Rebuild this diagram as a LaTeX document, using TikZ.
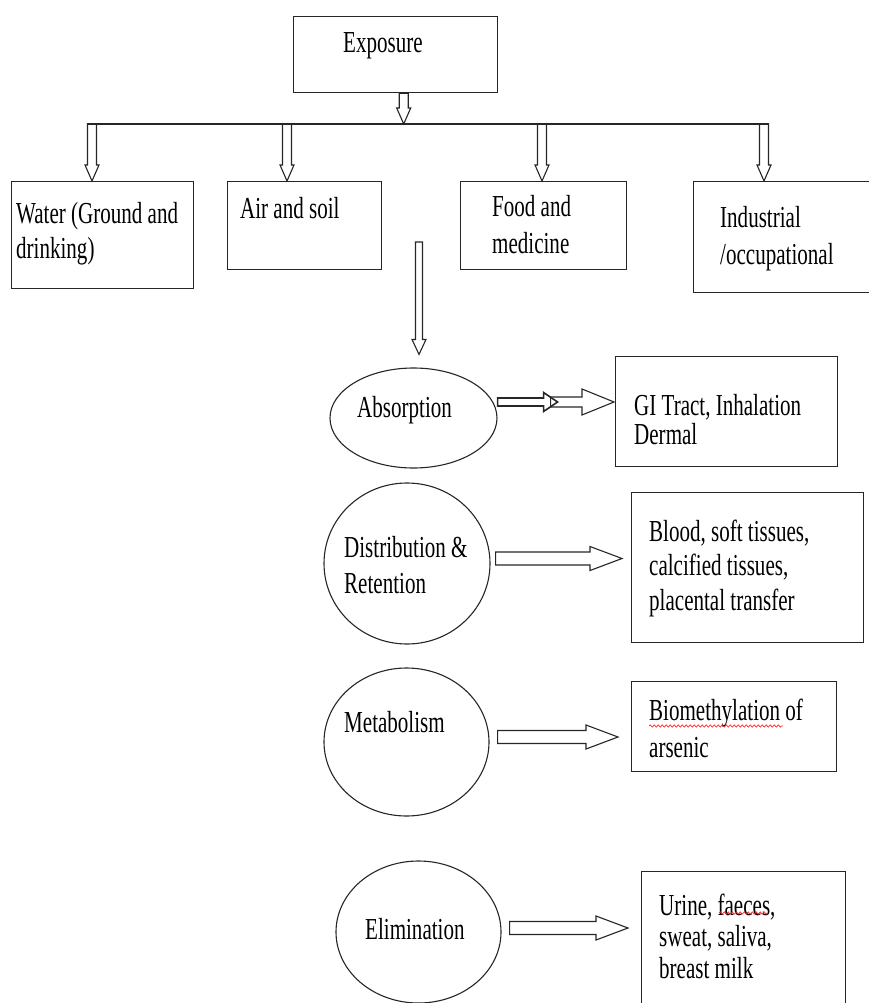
\documentclass[tikz,border=0pt]{standalone}
\usepackage{fontspec}
\setmainfont{Liberation Serif}[FakeStretch=0.69]
\usetikzlibrary{calc,shapes.geometric,decorations.pathmorphing}

% hollow block arrow: #1 half shaft, #2 half head, #3 head length, #4 from, #5 to
\newcommand{\flecha}[5]{%
  \coordinate (fa) at (#4);
  \coordinate (fb) at (#5);
  \coordinate (fh) at ($(fb)!#3pt!(fa)$);
  \draw[linea] ($(fa)!#1pt!90:(fb)$) -- ($(fh)!#1pt!-90:(fa)$) -- ($(fh)!#2pt!-90:(fa)$) -- (fb)
     -- ($(fh)!#2pt!90:(fa)$) -- ($(fh)!#1pt!90:(fa)$) -- ($(fa)!#1pt!-90:(fb)$) -- cycle;
}

\begin{document}
\begin{tikzpicture}[x=1pt,y=-1pt]
\tikzset{caja/.style={rectangle,draw,line width=1.4pt,black!85,anchor=north west,inner sep=0pt},
         ovalo/.style={ellipse,draw,line width=1.1pt,black!85,inner sep=0pt},
         texto/.style={inner sep=0pt,anchor=base west,text=black,font=\fontsize{30.5}{35}\selectfont},
         linea/.style={line width=1.1pt,black!85},
         subrayado/.style={red!85,line width=0.7pt,decorate,decoration={snake,amplitude=1.1pt,segment length=4pt}}}

\useasboundingbox (0,0) rectangle (869,1003);

  \draw (293,16) node[caja,minimum width=204pt,minimum height=76pt](expo) {};
  \draw (11,181) node[caja,minimum width=182pt,minimum height=107pt](water) {};
  \draw (227,181) node[caja,minimum width=154pt,minimum height=88pt](air) {};
  \draw (460,181) node[caja,minimum width=166pt,minimum height=88pt](food) {};
  \draw (693,181) node[caja,minimum width=190pt,minimum height=111pt](indus) {};

  \draw (413.5,418) node[ovalo,minimum width=167pt,minimum height=100pt](abs) {};
  \draw (407,563.5) node[ovalo,minimum width=166pt,minimum height=161pt](dist) {};
  \draw (406.5,742) node[ovalo,minimum width=165pt,minimum height=148pt](meta) {};
  \draw (418.5,932) node[ovalo,minimum width=165pt,minimum height=142pt](elim) {};

  \draw (615,356) node[caja,minimum width=222pt,minimum height=110pt](gi) {};
  \draw (631,492) node[caja,minimum width=232pt,minimum height=150pt](distbox) {};
  \draw (631,681) node[caja,minimum width=205pt,minimum height=90pt](metabox) {};
  \draw (641,871) node[caja,minimum width=204pt,minimum height=140pt](elimbox) {};

  % texts
  \draw (343,53) node[texto](tExpo) {Exposure};
  \draw (16,223) node[texto](tWater) {\begin{tabular}[t]{@{}l@{}}Water (Ground and\\drinking)\end{tabular}};
  \draw (240,218) node[texto](tAir) {Air and soil};
  \draw (492,216) node[texto,font=\fontsize{30.5}{37}\selectfont](tFood) {\begin{tabular}[t]{@{}l@{}}Food and\\medicine\end{tabular}};
  \draw (720,227) node[texto,font=\fontsize{30.5}{37}\selectfont](tIndus) {\begin{tabular}[t]{@{}l@{}}Industrial\\/occupational\end{tabular}};
  \draw (357,417) node[texto](tAbs) {Absorption};
  \draw (634,415) node[texto,font=\fontsize{30.5}{28}\selectfont](tGi) {\begin{tabular}[t]{@{}l@{}}GI Tract, Inhalation\\Dermal\end{tabular}};
  \draw (344,557) node[texto,font=\fontsize{30.5}{36}\selectfont](tDist) {\begin{tabular}[t]{@{}l@{}}Distribution \&\\Retention\end{tabular}};
  \draw (649,541) node[texto,font=\fontsize{30.5}{34.5}\selectfont](tDistbox) {\begin{tabular}[t]{@{}l@{}}Blood, soft tissues,\\calcified tissues,\\placental transfer\end{tabular}};
  \draw (344,732) node[texto](tMeta) {Metabolism};
  \draw (649,720) node[texto,font=\fontsize{30.5}{37}\selectfont](tMetabox) {\begin{tabular}[t]{@{}l@{}}Biomethylation of\\arsenic\end{tabular}};
  \draw (365,939) node[texto](tElim) {Elimination};
  \draw (659,915) node[texto,font=\fontsize{30.5}{31.5}\selectfont](tElimbox) {\begin{tabular}[t]{@{}l@{}}Urine, faeces,\\sweat, saliva,\\breast milk\end{tabular}};

  \draw[subrayado] (649,726) -- (783,726);
  \draw[subrayado] (719,913) -- (768,913);

  % arrows
  \coordinate (busL) at (87,124);
  \coordinate (busR) at (769,124);
  \draw[linea] (busL) -- (busR);
  \flecha{4.5}{7}{16}{$(expo.south)+(8,0)$}{$(expo.south |- busL)+(8,0)$}
  \foreach \x/\b in {92/water,287/air,542/food,764/indus}{
    \coordinate (p\b) at (\x,124);
    \flecha{4.5}{7}{16}{p\b}{p\b |- \b.north}
  }

  \coordinate (caida) at (419,242);
  \flecha{3.5}{7}{15}{caida}{$(caida |- abs.north)+(0,-13)$}

  \begin{scope}[linea/.append style={line width=1.6pt}]
  \flecha{4}{9.5}{14}{$(abs.east)+(0,-16)$}{$(abs.east)+(60,-16)$}
  \end{scope}
  \flecha{5}{13}{32}{$(abs.east)+(53,-16)$}{$(abs.east -| gi.west)+(-1,-16)$}
  \flecha{6.5}{12}{32}{$(dist.east)+(5,-5)$}{$(dist.east -| distbox.west)+(-9,-5)$}
  \flecha{6.5}{12}{32}{$(meta.east)+(8,-5)$}{$(meta.east -| metabox.west)+(-13,-5)$}
  \flecha{6.5}{12}{32}{$(elim.east)+(8,-4)$}{$(elim.east -| elimbox.west)+(-13,-4)$}
\end{tikzpicture}
\end{document}
